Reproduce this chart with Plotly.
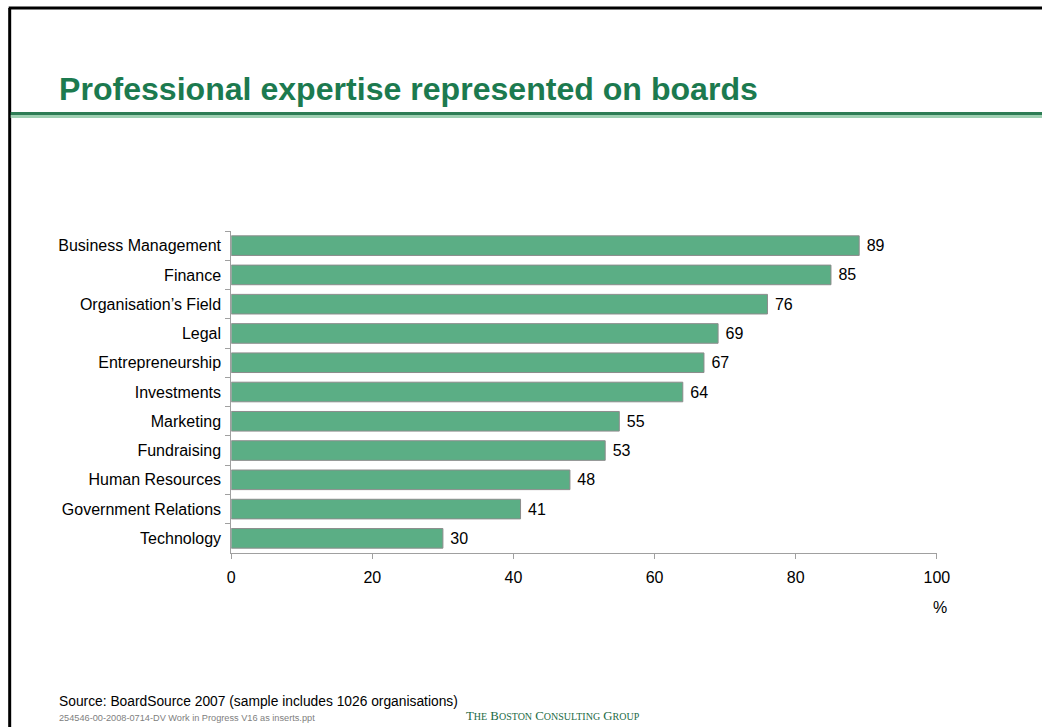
import plotly.graph_objects as go

categories = ["Business Management", "Finance", "Organisation\u2019s Field", "Legal",
              "Entrepreneurship", "Investments", "Marketing", "Fundraising",
              "Human Resources", "Government Relations", "Technology"]
values = [89, 85, 76, 69, 67, 64, 55, 53, 48, 41, 30]
x_ticks = [0, 20, 40, 60, 80, 100]

W, H = 1057, 727
SCALE, OFF = 0.9859, 3.3   # observed horizontal mapping of the viewer
def px(r): return ((r - OFF) / SCALE) / W
def py(y): return 1 - y / H

FONT = "Liberation Sans, Arial, sans-serif"
GREEN = "#1C7A4F"

fig = go.Figure()
fig.add_trace(go.Bar(
    y=categories, x=values, orientation="h",
    marker=dict(color="#5BAE85", line=dict(color="#8C8C8C", width=1)),
    text=values, texttemplate="\u00a0%{x}", textposition="outside",
    textfont=dict(family=FONT, size=16, color="#000000"),
    cliponaxis=False, width=0.67,
))

fig.update_layout(
    width=W, height=H,
    margin=dict(l=0, r=0, t=0, b=0),
    paper_bgcolor="white", plot_bgcolor="white",
    showlegend=False,
    font=dict(family=FONT, size=16, color="#000000"),
    xaxis=dict(domain=[px(231), px(938)], range=[0, 100], tickvals=x_ticks,
               showgrid=False, zeroline=False, showline=True, linecolor="#A0A0A0",
               linewidth=1, ticks="outside", ticklen=5, tickcolor="#A0A0A0",
               ticklabelstandoff=5, tickfont=dict(size=16, family=FONT)),
    yaxis=dict(domain=[py(553), py(231)], autorange="reversed",
               type="category", tickson="boundaries",
               showgrid=False, zeroline=False, showline=True, linecolor="#A0A0A0",
               linewidth=1, ticks="outside", ticklen=5, tickcolor="#A0A0A0",
               ticklabelstandoff=6, tickfont=dict(size=16, family=FONT)),
)

shapes = [
    dict(type="line", xref="paper", yref="paper", x0=px(8), x1=1.0, y0=py(8), y1=py(8),
         line=dict(color="black", width=3)),
    dict(type="line", xref="paper", yref="paper", x0=px(9), x1=px(9), y0=py(8), y1=0,
         line=dict(color="black", width=3)),
    dict(type="line", xref="paper", yref="paper", x0=px(10), x1=1.0, y0=py(113.5), y1=py(113.5),
         line=dict(color="#2E7D55", width=3)),
    dict(type="line", xref="paper", yref="paper", x0=px(10), x1=1.0, y0=py(116.5), y1=py(116.5),
         line=dict(color="#9FD0B2", width=3)),
]
fig.update_layout(shapes=shapes)

anns = [
    dict(text="<b>Professional expertise represented on boards</b>", x=px(56), y=py(89),
         xanchor="left", yanchor="middle", font=dict(size=32.1, color=GREEN, family=FONT)),
    dict(text="%", x=px(950), y=py(607), xanchor="right", yanchor="middle",
         font=dict(size=16, family=FONT)),
    dict(text="Source: BoardSource 2007 (sample includes 1026 organisations)", x=px(56), y=py(701),
         xanchor="left", yanchor="middle", font=dict(size=13.8, family=FONT)),
    dict(text="254546-00-2008-0714-DV Work in Progress V16 as inserts.ppt", x=px(56), y=py(718),
         xanchor="left", yanchor="middle", font=dict(size=9.2, color="#808080", family=FONT)),
    dict(text="T<span style='font-size:10px'>HE</span> B<span style='font-size:10px'>OSTON</span> "
              "C<span style='font-size:10px'>ONSULTING</span> G<span style='font-size:10px'>ROUP</span>",
         x=px(464), y=py(716), xanchor="left", yanchor="middle",
         font=dict(size=12.8, color="#1C6B45", family="Liberation Serif, Times New Roman, serif")),
]
for a in anns:
    a.update(xref="paper", yref="paper", showarrow=False)
    fig.add_annotation(**a)

post = ("document.body.style.margin='0';document.body.style.padding='0';"
        "document.body.style.overflow='hidden';document.documentElement.style.overflow='hidden';")
fig.write_html("out.html", post_script=post,
               config={"responsive": False, "displayModeBar": False})
